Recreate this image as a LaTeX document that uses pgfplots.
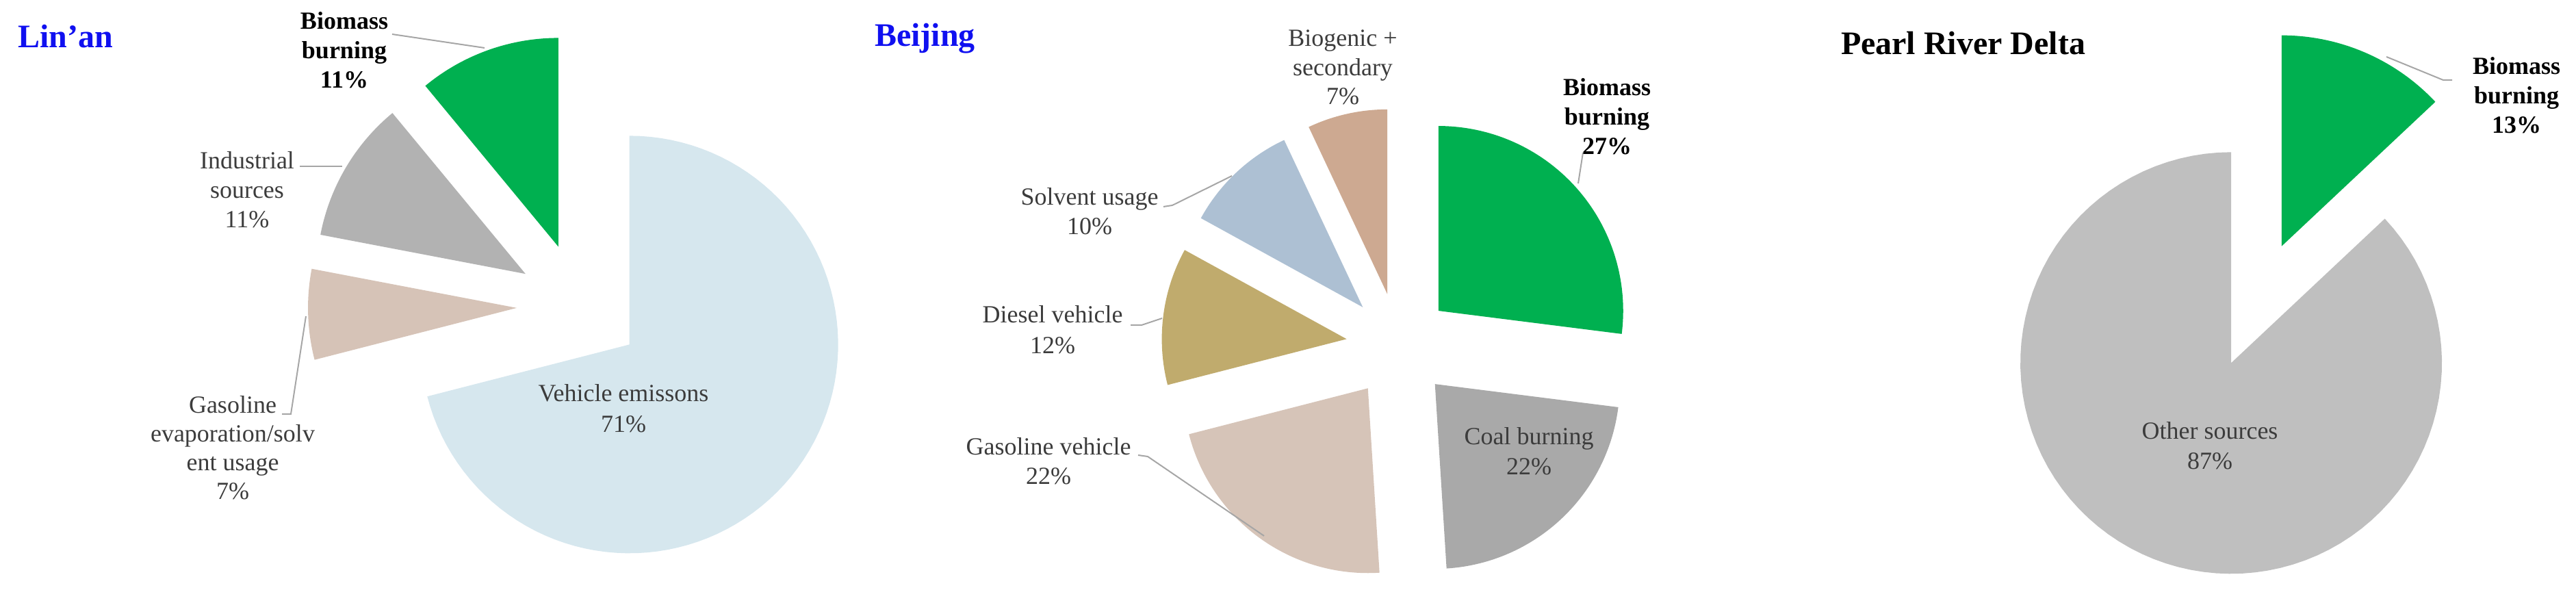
\documentclass[border=0pt]{standalone}
\usepackage{fontspec}
\setmainfont{Liberation Serif}
\usepackage{pgfplots}
\pgfplotsset{compat=1.18}

\definecolor{bio}{HTML}{00B050}
\definecolor{vehblue}{HTML}{D6E7EE}
\definecolor{indgrey}{HTML}{B2B2B2}
\definecolor{gasbeige}{HTML}{D6C3B7}
\definecolor{biogenic}{HTML}{CDA991}
\definecolor{solvent}{HTML}{ADC0D3}
\definecolor{diesel}{HTML}{C0AB6D}
\definecolor{gasveh}{HTML}{D6C4B8}
\definecolor{coal}{HTML}{A9A9A9}
\definecolor{other}{HTML}{BFBFBF}
\definecolor{leader}{HTML}{A6A6A6}
\definecolor{labtext}{HTML}{3C3C3C}
\definecolor{titleblue}{HTML}{1010F0}

\newcommand{\lab}{\fontsize{7.2}{8.6}\selectfont}
\newcommand{\labb}{\fontsize{7.2}{8.6}\selectfont\bfseries}
\newcommand{\ttl}{\fontsize{9.6}{11}\selectfont\bfseries}

% one exploded slice: centre x, centre y, radius, explode, start (%), value (%), colour
% slices run clockwise from 12 o'clock
\newcommand{\slice}[7]{%
  \pgfmathsetmacro{\aS}{90-3.6*#5}%
  \pgfmathsetmacro{\aE}{90-3.6*(#5+#6)}%
  \pgfmathsetmacro{\aM}{(\aS+\aE)/2}%
  \pgfmathsetmacro{\ox}{#1+#4*cos(\aM)}%
  \pgfmathsetmacro{\oy}{#2+#4*sin(\aM)}%
  \edef\temp{\noexpand\addplot[fill=#7, draw=none, domain=\aE:\aS,
      samples=90, variable=\noexpand\t]
    ({\ox+#3*cos(\noexpand\t)}, {\oy+#3*sin(\noexpand\t)})
    -- (axis cs:\ox,\oy) -- cycle;}%
  \temp
}
\newcommand{\lb}[3]{\node[anchor=base, inner sep=0pt, text=labtext, font=\lab]
  at (axis cs:#1,#2) {#3};}
\newcommand{\lbb}[3]{\node[anchor=base, inner sep=0pt, text=black, font=\labb]
  at (axis cs:#1,#2) {#3};}

\begin{document}
\begin{tikzpicture}
\begin{axis}[
  width=752.8pt, height=172.4pt, scale only axis,
  xmin=0, xmax=3764, ymin=0, ymax=862,
  hide axis, clip=false,
]
\path (axis cs:0,0) rectangle (axis cs:3764,862);

% ---- Lin'an ----
\slice{847}{415}{305}{92}{0}{71}{vehblue}
\slice{847}{415}{305}{92}{71}{7}{gasbeige}
\slice{847}{415}{305}{92}{78}{11}{indgrey}
\slice{847}{415}{305}{92}{89}{11}{bio}

% ---- Beijing ----
\slice{2044}{357}{270}{77}{0}{27}{bio}
\slice{2044}{357}{270}{77}{27}{22}{coal}
\slice{2044}{357}{270}{77}{49}{22}{gasveh}
\slice{2044}{357}{270}{77}{71}{12}{diesel}
\slice{2044}{357}{270}{77}{83}{10}{solvent}
\slice{2044}{357}{270}{77}{93}{7}{biogenic}

% ---- Pearl River Delta ----
\slice{3297}{417}{308}{93}{0}{13}{bio}
\slice{3297}{417}{308}{93}{13}{87}{other}

% leader lines
\draw[leader, line width=0.4pt] (axis cs:573,812) -- (axis cs:708,792);
\draw[leader, line width=0.4pt] (axis cs:438,619) -- (axis cs:500,619);
\draw[leader, line width=0.4pt] (axis cs:412,257) -- (axis cs:425,257) -- (axis cs:447,400);
\draw[leader, line width=0.4pt] (axis cs:1700,560) -- (axis cs:1713,562) -- (axis cs:1800,605);
\draw[leader, line width=0.4pt] (axis cs:1652,387) -- (axis cs:1668,387) -- (axis cs:1698,397);
\draw[leader, line width=0.4pt] (axis cs:1663,197) -- (axis cs:1677,195) -- (axis cs:1847,79);
\draw[leader, line width=0.4pt] (axis cs:2313,639) -- (axis cs:2306,594);
\draw[leader, line width=0.4pt] (axis cs:3583,745) -- (axis cs:3570,745) -- (axis cs:3487,779);

% titles
\node[anchor=base west, inner sep=0pt, text=titleblue, font=\ttl] at (axis cs:25,792) {Lin\symbol{39}an};
\node[anchor=base west, inner sep=0pt, text=titleblue, font=\ttl] at (axis cs:1277,794) {Beijing};
\node[anchor=base west, inner sep=0pt, text=black, font=\ttl] at (axis cs:2689,782) {Pearl River Delta};

% Lin'an labels
\lbb{503}{819}{Biomass}
\lbb{503}{776}{burning}
\lbb{503}{733}{11\%}
\lb{361}{615}{Industrial}
\lb{361}{572}{sources}
\lb{361}{529}{11\%}
\lb{340}{258}{Gasoline}
\lb{340}{216}{evaporation/solv}
\lb{340}{174}{ent usage}
\lb{340}{132}{7\%}
\lb{911}{275}{Vehicle emissons}
\lb{911}{230}{71\%}

% Beijing labels
\lb{1962}{794}{Biogenic +}
\lb{1962}{751}{secondary}
\lb{1962}{709}{7\%}
\lbb{2348}{722}{Biomass}
\lbb{2348}{679}{burning}
\lbb{2348}{636}{27\%}
\lb{1592}{562}{Solvent usage}
\lb{1592}{519}{10\%}
\lb{1538}{390}{Diesel vehicle}
\lb{1538}{345}{12\%}
\lb{1532}{197}{Gasoline vehicle}
\lb{1532}{154}{22\%}
\lb{2234}{212}{Coal burning}
\lb{2234}{168}{22\%}

% Pearl River Delta labels
\lbb{3677}{753}{Biomass}
\lbb{3677}{710}{burning}
\lbb{3677}{667}{13\%}
\lb{3229}{220}{Other sources}
\lb{3229}{176}{87\%}
\end{axis}
\end{tikzpicture}
\end{document}
